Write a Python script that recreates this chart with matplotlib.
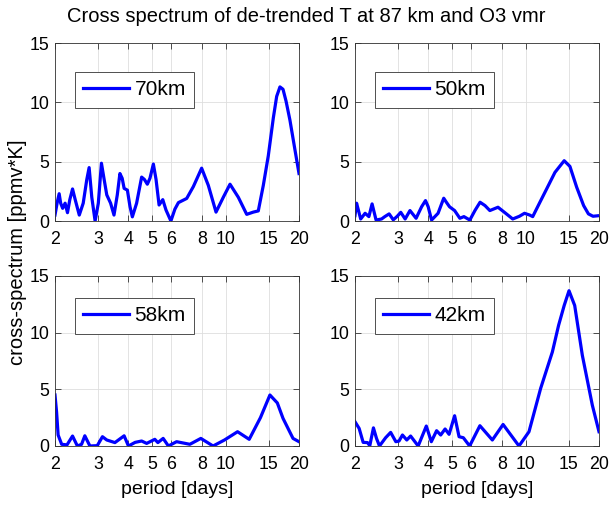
import matplotlib
matplotlib.use("Agg")
import matplotlib.pyplot as plt
from matplotlib.ticker import FixedLocator, NullLocator

plt.rcParams['font.family'] = ['Liberation Sans', 'DejaVu Sans']

# ---- data (period [days], cross-spectrum [ppmv*K]) ----
p70 = [2.0, 2.044, 2.08, 2.11, 2.15, 2.20, 2.25, 2.30, 2.36, 2.42, 2.515, 2.61, 2.70, 2.76,
       2.83, 2.92, 3.01, 3.10, 3.18, 3.26, 3.38, 3.49, 3.60, 3.69, 3.77, 3.84, 3.96, 4.06,
       4.15, 4.32, 4.53, 4.65, 4.78, 4.90, 5.06, 5.19, 5.34, 5.53, 5.70, 5.97, 6.20, 6.41,
       6.93, 7.38, 7.98, 8.50, 9.14, 9.79, 10.43, 11.28, 12.21, 13.0, 13.62, 14.28, 14.97,
       15.7, 16.2, 16.71, 17.2, 17.7, 18.36, 19.25, 20.0]
v70 = [0.5, 1.6, 2.3, 1.5, 1.07, 1.5, 0.7, 1.8, 2.7, 1.8, 0.5, 1.5, 3.5, 4.5,
       2.0, 0.0, 1.5, 4.87, 3.5, 2.2, 1.5, 0.5, 2.2, 4.0, 3.6, 2.75, 2.6, 1.2,
       0.35, 1.5, 3.7, 3.5, 3.1, 3.6, 4.8, 3.5, 1.35, 1.8, 0.93, 0.0, 1.0, 1.55,
       1.9, 2.9, 4.45, 3.0, 0.75, 2.0, 3.1, 2.0, 0.56, 0.75, 0.85, 3.0, 5.5,
       8.7, 10.5, 11.3, 11.1, 10.1, 8.5, 6.0, 4.0]

p50 = [2.0, 2.03, 2.06, 2.11, 2.20, 2.28, 2.35, 2.44, 2.57, 2.65, 2.76, 2.87, 2.98, 3.08,
       3.21, 3.36, 3.56, 3.75, 3.89, 3.99, 4.12, 4.38, 4.62, 4.73, 4.88, 5.12, 5.38, 5.59,
       5.91, 6.21, 6.51, 6.82, 7.14, 7.71, 8.23, 8.86, 9.44, 9.90, 10.4, 10.7, 11.4, 12.2,
       13.2, 14.4, 15.2, 16.2, 17.3, 18.1, 18.9, 20.0]
v50 = [0.45, 1.5, 1.0, 0.17, 0.65, 0.37, 1.44, 0.08, 0.17, 0.37, 0.6, 0.1, 0.4, 0.73,
       0.17, 0.88, 0.23, 1.2, 1.72, 1.2, 0.08, 0.65, 1.92, 1.6, 1.2, 0.88, 0.23, 0.37,
       0.08, 0.9, 1.58, 1.3, 0.88, 1.16, 0.7, 0.17, 0.4, 0.65, 0.5, 0.37, 1.5, 2.7,
       4.1, 5.08, 4.6, 2.85, 1.3, 0.6, 0.4, 0.45]

p58 = [2.0, 2.03, 2.06, 2.13, 2.24, 2.36, 2.47, 2.57, 2.65, 2.78, 2.98, 3.13, 3.26, 3.52,
       3.84, 4.0, 4.26, 4.53, 4.75, 5.13, 5.28, 5.55, 5.83, 6.30, 7.14, 7.92, 8.89, 9.9,
       11.2, 12.5, 13.9, 15.2, 16.3, 17.2, 18.9, 20.0]
v58 = [4.5, 3.0, 0.97, 0.15, 0.1, 0.88, 0.0, 0.15, 0.9, 0.0, 0.03, 0.82, 0.53, 0.3,
       0.9, 0.0, 0.32, 0.44, 0.23, 0.59, 0.3, 0.67, 0.0, 0.38, 0.15, 0.67, 0.0, 0.53,
       1.26, 0.59, 2.5, 4.5, 3.8, 2.44, 0.67, 0.38]

p42 = [2.0, 2.08, 2.16, 2.25, 2.30, 2.38, 2.45, 2.52, 2.67, 2.80, 2.94, 3.03, 3.13, 3.26,
       3.38, 3.63, 3.92, 4.11, 4.32, 4.49, 4.68, 4.86, 5.12, 5.34, 5.56, 5.90, 6.50, 7.31,
       8.09, 9.40, 10.33, 11.53, 12.88, 13.66, 14.4, 15.07, 15.9, 17.09, 18.78, 20.0]
v42 = [2.14, 1.55, 0.32, 0.3, 0.03, 1.6, 0.67, 0.0, 0.73, 1.2, 0.38, 0.44, 0.97, 0.53,
       0.88, 0.0, 1.76, 0.38, 1.35, 0.97, 1.5, 1.03, 2.67, 0.82, 0.73, 0.0, 1.79, 0.53,
       1.9, 0.0, 1.26, 5.08, 8.3, 10.65, 12.4, 13.7, 12.4, 8.0, 3.6, 1.26]

labels = ['70km', '50km', '58km', '42km']
xticks = [2, 3, 4, 5, 6, 8, 10, 15, 20]
yticks = [0, 5, 10, 15]

fig = plt.figure(figsize=(6.13, 5.05), dpi=100)
W, H = 613.0, 505.0
boxes = [(55, 43, 244, 178), (355, 43, 244, 178), (55, 276, 244, 170), (355, 276, 244, 170)]
leg_top = [72, 72, 298, 298]
series = [(p70, v70), (p50, v50), (p58, v58), (p42, v42)]

for i, ((x0, y0, w, h), (px, vy), lab) in enumerate(zip(boxes, series, labels)):
    ax = fig.add_axes([x0 / W, 1 - (y0 + h) / H, w / W, h / H])
    ax.plot(px, vy, color=(0, 0, 1), lw=2.3, label=lab, solid_joinstyle='round')
    ax.set_xscale('log')
    ax.set_xlim(2, 20)
    ax.set_ylim(0, 15)
    ax.xaxis.set_major_locator(FixedLocator(xticks))
    ax.xaxis.set_minor_locator(NullLocator())
    ax.set_xticklabels([str(t) for t in xticks])
    ax.set_yticks(yticks)
    ax.tick_params(direction='in', top=True, right=True, labelsize=12.8, length=4,
                   width=0.6, color='#333333')
    ax.tick_params(axis='x', pad=7)
    ax.tick_params(axis='y', pad=4)
    ax.grid(True, color='#dedede', lw=0.6)
    for s in ax.spines.values():
        s.set_linewidth(0.6)
        s.set_color('#333333')
    ly = (y0 + h - leg_top[i]) / h
    leg = ax.legend(loc='upper left', bbox_to_anchor=(0.082, ly), fontsize=15,
                    handlelength=2.2, handletextpad=0.25, borderpad=0.4,
                    fancybox=False, framealpha=1, edgecolor='#333333',
                    borderaxespad=0)
    leg.get_frame().set_linewidth(0.6)
    if i >= 2:
        fig.text((x0 + w / 2) / W, 1 - 490 / H, 'period [days]', ha='center',
                 va='center', fontsize=14)

fig.text(0.5, 1 - 17 / H, 'Cross spectrum of de-trended T at 87 km and O3 vmr',
         ha='center', va='center', fontsize=14.5)
fig.text(18 / W, 1 - 252 / H, 'cross-spectrum [ppmv*K]', rotation=90,
         ha='center', va='center', fontsize=14.5)

fig.savefig('out.png', dpi=100)
